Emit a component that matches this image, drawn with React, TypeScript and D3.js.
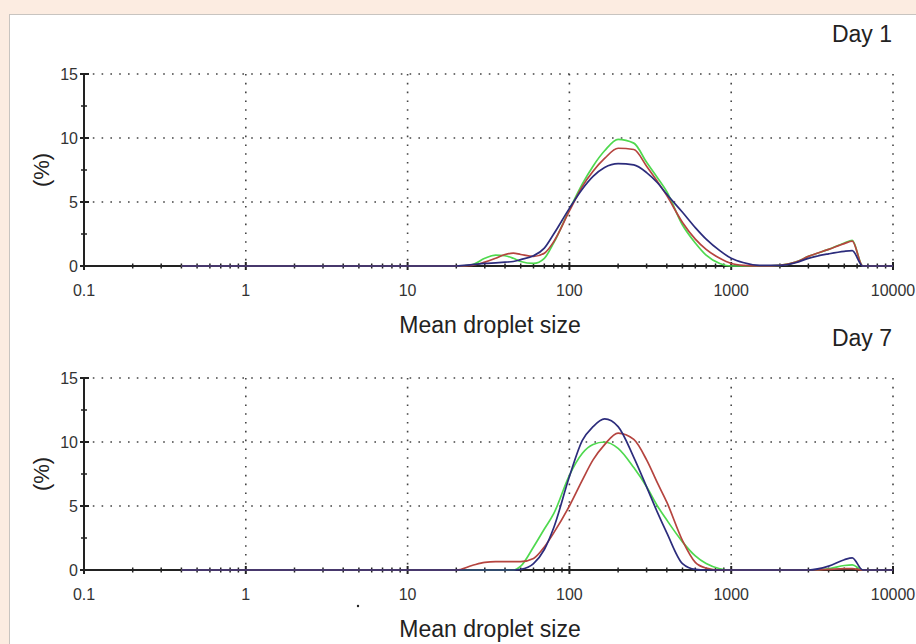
import React from 'react';
import * as d3 from 'd3';

// droplet size grid (shared by all curves)
const sizes = [0.4, 20, 25, 30, 35, 40, 45, 50, 60, 70, 80, 100, 120, 140, 165, 200, 250, 300, 350, 400, 500, 600, 700, 850, 1000, 1200, 1500, 2000, 2500, 3000, 4000, 5000, 5600, 6500, 10000];

const day1Green = [0, 0, 0.1, 0.6, 0.85, 0.8, 0.6, 0.35, 0.2, 0.6, 1.8, 4.4, 6.4, 7.8, 9.0, 9.9, 9.6, 8.1, 6.9, 5.8, 3.2, 1.8, 0.85, 0.2, 0, 0, 0, 0.05, 0.3, 0.75, 1.3, 1.8, 2.0, 0, 0];
const day1Red = [0, 0, 0.05, 0.3, 0.6, 0.9, 1.0, 0.9, 0.75, 1.0, 1.9, 4.3, 6.2, 7.4, 8.4, 9.2, 9.1, 7.8, 6.6, 5.5, 3.4, 2.1, 1.3, 0.6, 0.2, 0.05, 0, 0.05, 0.3, 0.75, 1.3, 1.75, 1.95, 0, 0];
const day1Blue = [0, 0, 0.1, 0.2, 0.25, 0.3, 0.35, 0.5, 0.8, 1.4, 2.5, 4.5, 6.0, 7.0, 7.7, 8.0, 7.9, 7.3, 6.5, 5.6, 4.2, 3.0, 2.1, 1.2, 0.6, 0.25, 0.05, 0.05, 0.25, 0.6, 0.95, 1.15, 1.2, 0, 0];

const day7Green = [0, 0, 0, 0, 0, 0, 0, 0.3, 1.8, 3.2, 4.4, 7.4, 9.1, 9.8, 10.0, 9.5, 8.0, 6.5, 5.0, 3.9, 2.2, 1.1, 0.5, 0.1, 0, 0, 0, 0, 0, 0, 0.1, 0.35, 0.4, 0, 0];
const day7Red = [0, 0, 0.35, 0.6, 0.65, 0.65, 0.65, 0.65, 0.9, 1.8, 2.9, 5.0, 7.0, 8.6, 9.8, 10.7, 10.2, 8.6, 6.8, 5.3, 2.3, 0.6, 0.15, 0, 0, 0, 0, 0, 0, 0, 0.05, 0.1, 0.1, 0, 0];
const day7Blue = [0, 0, 0, 0, 0, 0, 0, 0.05, 0.5, 1.6, 3.3, 7.3, 10.1, 11.2, 11.8, 11.2, 8.8, 6.5, 4.5, 2.9, 0.5, 0.05, 0, 0, 0, 0, 0, 0, 0, 0, 0.3, 0.8, 0.95, 0, 0];

const xTickLabels = ['0.1', '1', '10', '100', '1000', '10000'];
const yTickValues = [0, 5, 10, 15];

const panels = [
  { title: 'Day 1', top: 74, series: [day1Green, day1Red, day1Blue] },
  { title: 'Day 7', top: 378, series: [day7Green, day7Red, day7Blue] },
];
const colors = ['#4fd94f', '#b5443f', '#2c2c7c'];

const width = 916;
const height = 644;
const left = 84;
const right = 893;
const plotH = 192;
const font = 'Arial, Liberation Sans, sans-serif';

function Panel({ title, top, series }: { title: string; top: number; series: number[][] }) {
  const x = d3.scaleLog().domain([0.1, 10000]).range([left, right]);
  const y = d3.scaleLinear().domain([0, 15]).range([top + plotH, top]);
  const line = d3.line<number>()
    .x((_, i) => x(sizes[i]))
    .y(d => y(d))
    .curve(d3.curveMonotoneX);

  const minor: number[] = [];
  for (let e = -1; e < 4; e++) for (let m = 2; m <= 9; m++) minor.push(m * Math.pow(10, e));
  const decades = xTickLabels.map(Number);

  return (
    <g>
      {/* grid */}
      {[5, 10, 15].map(v => (
        <line key={'h' + v} x1={left} x2={right} y1={y(v)} y2={y(v)} stroke="#444" strokeWidth={1.6} strokeDasharray="1.6 7.2" />
      ))}
      {decades.slice(1).map(v => (
        <line key={'v' + v} x1={x(v)} x2={x(v)} y1={y(15)} y2={y(0)} stroke="#444" strokeWidth={1.6} strokeDasharray="1.6 7.2" />
      ))}
      {/* axes */}
      <line x1={left} x2={left} y1={y(15)} y2={y(0)} stroke="#222" strokeWidth={2} />
      <line x1={left} x2={right} y1={y(0)} y2={y(0)} stroke="#222" strokeWidth={2} />
      {yTickValues.map(v => (
        <g key={'yt' + v}>
          <line x1={left - 4} x2={left + 5} y1={y(v)} y2={y(v)} stroke="#222" strokeWidth={2} />
          <text x={left - 6} y={y(v) + 6} textAnchor="end" fontSize={16} fill="#333" fontFamily={font}>{v}</text>
        </g>
      ))}
      {[2.5, 7.5, 12.5].map(v => (
        <line key={'ym' + v} x1={left - 3} x2={left + 3} y1={y(v)} y2={y(v)} stroke="#222" strokeWidth={1.5} />
      ))}
      {minor.map(v => (
        <line key={'xm' + v} x1={x(v)} x2={x(v)} y1={y(0) - 2.5} y2={y(0) + 2.5} stroke="#222" strokeWidth={1.5} />
      ))}
      {decades.map((v, i) => (
        <g key={'xt' + v}>
          <line x1={x(v)} x2={x(v)} y1={y(0) - 4} y2={y(0) + 4} stroke="#222" strokeWidth={2} />
          <text x={x(v)} y={y(0) + 30} textAnchor="middle" fontSize={16} fill="#333" fontFamily={font}>{xTickLabels[i]}</text>
        </g>
      ))}
      {/* curves */}
      {series.map((s, i) => (
        <path key={'s' + i} d={line(s) || ''} fill="none" stroke={colors[i]} strokeWidth={1.7} />
      ))}
      <text x={490} y={y(0) + 67} textAnchor="middle" fontSize={23} fill="#222" fontFamily={font}>Mean droplet size</text>
      <text x={892} y={top - 32} textAnchor="end" fontSize={23} fill="#222" fontFamily={font}>{title}</text>
      <text transform={`translate(49,${top + 96}) rotate(-90)`} textAnchor="middle" fontSize={22} fill="#222" fontFamily={font}>(%)</text>
    </g>
  );
}

export default function App() {
  return (
    <svg width={width} height={height} style={{ position: 'absolute', left: 0, top: 0 }}>
      <rect x={0} y={0} width={width} height={height} fill="#fcece1" />
      <rect x={9.5} y={14.5} width={width} height={height} fill="#ffffff" stroke="#c8c4c0" strokeWidth={1} />
      {panels.map(p => (
        <Panel key={p.title} title={p.title} top={p.top} series={p.series} />
      ))}
      <circle cx={358} cy={606} r={1.2} fill="#222" />
    </svg>
  );
}
